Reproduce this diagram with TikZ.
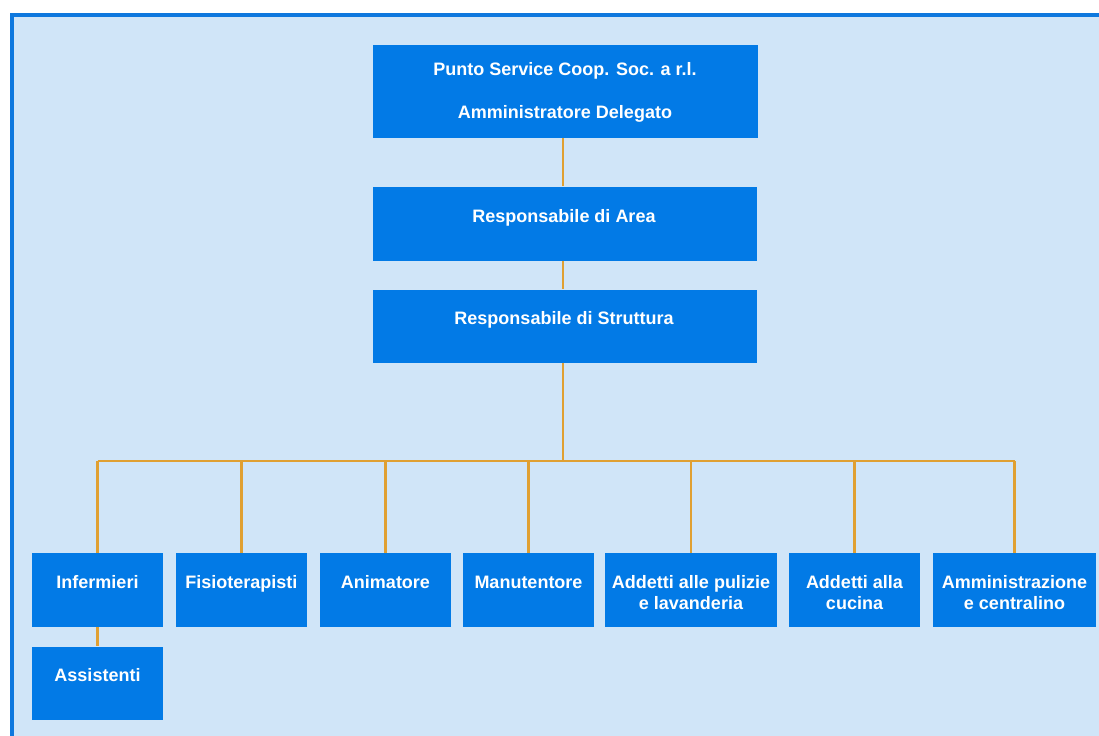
\documentclass[tikz,border=0pt]{standalone}
\usepackage{fontspec}
\setmainfont{Liberation Sans}
\definecolor{bgblue}{RGB}{208,229,248}
\definecolor{frameblue}{RGB}{14,120,222}
\definecolor{boxblue}{RGB}{2,122,230}
\definecolor{connorange}{RGB}{224,160,50}
\begin{document}
\begin{tikzpicture}[x=1bp,y=-1bp,
  orgbox/.style={fill=boxblue, draw=none, inner sep=0pt, rectangle},
  lbl/.style={text=white, font=\bfseries\fontsize{18bp}{21bp}\selectfont, align=center, anchor=base, inner sep=0pt},
  conn/.style={draw=connorange, line width=2.8bp}]
\useasboundingbox (0,0) rectangle (1099,736);
\fill[white] (0,0) rectangle (1099,736);
\fill[bgblue] (10,13) rectangle (1099,736);
\fill[frameblue] (10,13) rectangle (1099,17);
\fill[frameblue] (10,13) rectangle (14,736);

% boxes
\node[orgbox, minimum width=385bp, minimum height=93bp] (top) at (565.5,91.5) {};
\node[orgbox, minimum width=384bp, minimum height=74bp] (area) at (565,223.5) {};
\node[orgbox, minimum width=384bp, minimum height=73bp] (str) at (565,326) {};
\node[orgbox, minimum width=131bp, minimum height=73.5bp] (inf) at (97.5,590) {};
\node[orgbox, minimum width=130.5bp, minimum height=73.5bp] (fis) at (241.3,590) {};
\node[orgbox, minimum width=131bp, minimum height=73.5bp] (ani) at (385.5,590) {};
\node[orgbox, minimum width=131bp, minimum height=73.5bp] (man) at (528.5,590) {};
\node[orgbox, minimum width=172bp, minimum height=73.5bp] (add) at (691,590) {};
\node[orgbox, minimum width=131bp, minimum height=73.5bp] (cuc) at (854.5,590) {};
\node[orgbox, minimum width=163bp, minimum height=73.5bp] (amm) at (1014.5,590) {};
\node[orgbox, minimum width=131bp, minimum height=73.5bp] (ass) at (97.5,683.3) {};

% labels (base anchor = baseline of the last line)
\node[lbl] (topT) at (565,118.5) {Punto Service Coop. Soc. a r.l.\\[22bp]Amministratore Delegato};
\node[lbl] (areaT) at (564,222) {Responsabile di Area};
\node[lbl] (strT) at (564,324) {Responsabile di Struttura};
\node[lbl] (infT) at (97.5,588) {Infermieri};
\node[lbl] (fisT) at (241.3,588) {Fisioterapisti};
\node[lbl] (aniT) at (385.5,588) {Animatore};
\node[lbl] (manT) at (528.5,588) {Manutentore};
\node[lbl] (addT) at (691,609) {Addetti alle pulizie\\e lavanderia};
\node[lbl] (cucT) at (854.5,609) {Addetti alla\\cucina};
\node[lbl] (ammT) at (1014.5,609) {Amministrazione\\e centralino};
\node[lbl] (assT) at (97.5,681.7) {Assistenti};

% connectors
\coordinate (trunk) at (563,0);
\coordinate (bus) at (0,461);
\draw[conn] (top.south -| trunk) -- (area.north -| trunk);
\draw[conn] (area.south -| trunk) -- (str.north -| trunk);
\draw[conn] (str.south -| trunk) -- (trunk |- bus);
\draw[conn] (inf.north |- bus) -- (amm.north |- bus);
\foreach \b in {inf,fis,ani,man,add,cuc,amm}
  \draw[conn] (\b.north |- bus) -- (\b.north);
\draw[conn] (inf.south) -- (ass.north);
\end{tikzpicture}
\end{document}
